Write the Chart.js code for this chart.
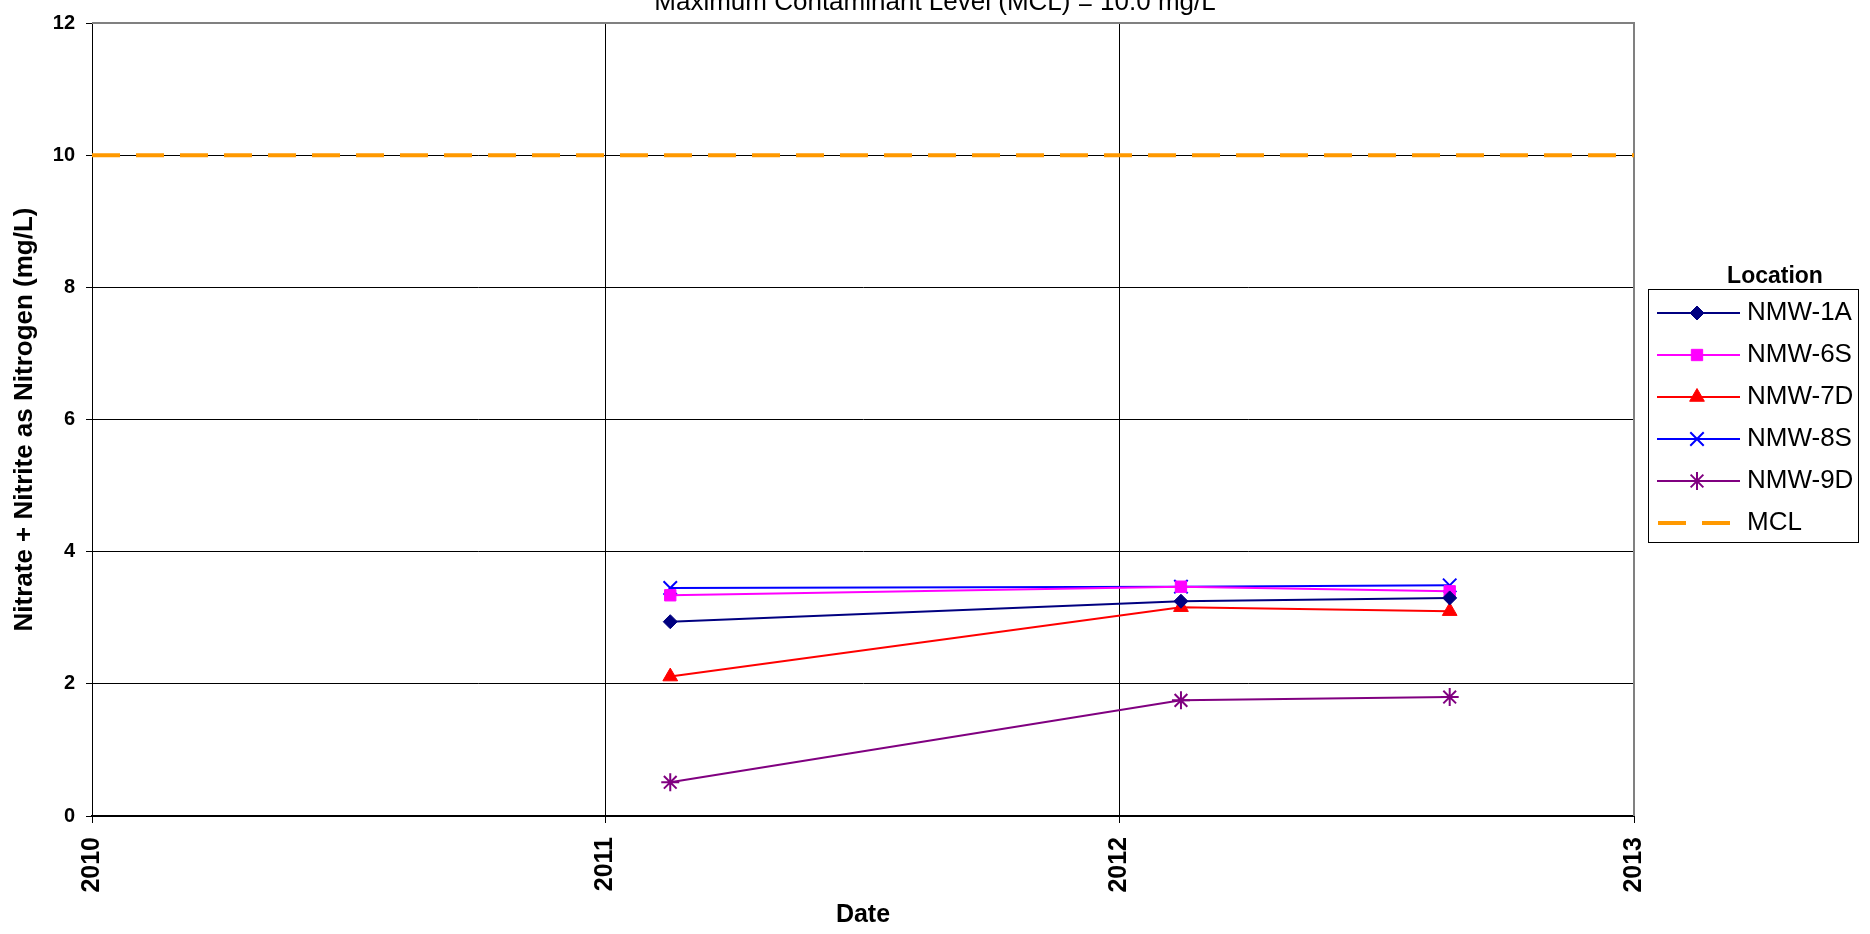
<!DOCTYPE html>
<html>
<head>
<meta charset="utf-8">
<script src="https://cdn.jsdelivr.net/npm/chart.js@4/dist/chart.umd.min.js"></script>
<style>
  html, body { margin: 0; padding: 0; background: #fff; }
  #wrap { width: 1870px; height: 934px; }
</style>
</head>
<body>
<div id="wrap"><canvas id="c" width="1870" height="934"></canvas></div>
<script>
// Sampling dates and measured nitrate + nitrite (as N), mg/L
const sampleDates = ['2011-02-16', '2012-02-14', '2012-08-23'];
const nmw1A = [2.94, 3.25, 3.30];
const nmw6S = [3.34, 3.47, 3.40];
const nmw7D = [2.11, 3.16, 3.10];
const nmw8S = [3.45, 3.47, 3.49];
const nmw9D = [0.51, 1.75, 1.80];

// Maximum Contaminant Level and the span it is drawn across
const mclValue = 10.0;
const mclSpan = ['2010-01-01', '2013-01-01'];

// Axis ticks
const yearTicks = [2010, 2011, 2012, 2013];
const yTicks = [0, 2, 4, 6, 8, 10, 12];

const FONT = '"Liberation Sans", Arial, Helvetica, sans-serif';
const toMs = d => Date.parse(d + 'T00:00:00Z');
const series = (vals) => sampleDates.map((d, i) => ({ x: toMs(d), y: vals[i] }));
const yearMs = y => Date.UTC(y, 0, 1);

const datasets = [
  { label: 'NMW-1A', data: series(nmw1A), borderColor: '#000080', backgroundColor: '#000080',
    pointStyle: 'rectRot', pointRadius: 7, pointBackgroundColor: '#000080', pointBorderColor: '#000080', pointBorderWidth: 1 },
  { label: 'NMW-6S', data: series(nmw6S), borderColor: '#FF00FF', backgroundColor: '#FF00FF',
    pointStyle: 'rect', pointRadius: 8, pointBackgroundColor: '#FF00FF', pointBorderColor: '#FF00FF', pointBorderWidth: 1 },
  { label: 'NMW-7D', data: series(nmw7D), borderColor: '#FF0000', backgroundColor: '#FF0000',
    pointStyle: 'triangle', pointRadius: 8.5, pointBackgroundColor: '#FF0000', pointBorderColor: '#FF0000', pointBorderWidth: 1 },
  { label: 'NMW-8S', data: series(nmw8S), borderColor: '#0000FF', backgroundColor: '#0000FF',
    pointStyle: 'crossRot', pointRadius: 9.5, pointBackgroundColor: '#0000FF', pointBorderColor: '#0000FF', pointBorderWidth: 2 },
  { label: 'NMW-9D', data: series(nmw9D), borderColor: '#800080', backgroundColor: '#800080',
    pointStyle: 'star', pointRadius: 9, pointBackgroundColor: '#800080', pointBorderColor: '#800080', pointBorderWidth: 2 },
  { label: 'MCL', data: mclSpan.map(d => ({ x: toMs(d), y: mclValue })), borderColor: '#FF9900', backgroundColor: '#FF9900',
    borderWidth: 4, borderDash: [28, 16], pointRadius: 0, pointStyle: false }
].map(ds => Object.assign({ borderWidth: 2, tension: 0, fill: false }, ds));

// Gray frame along the top and right of the plot area
const plotFrame = {
  id: 'plotFrame',
  beforeDatasetsDraw(chart) {
    const { ctx, chartArea: a } = chart;
    ctx.save();
    ctx.strokeStyle = '#808080';
    ctx.lineWidth = 2;
    ctx.beginPath();
    ctx.moveTo(a.left, a.top);
    ctx.lineTo(a.right, a.top);
    ctx.lineTo(a.right, a.bottom);
    ctx.stroke();
    ctx.restore();
  }
};

// Heading above the plot
const heading = {
  id: 'heading',
  afterDraw(chart) {
    const ctx = chart.ctx;
    ctx.save();
    ctx.fillStyle = '#000';
    ctx.font = '26px ' + FONT;
    ctx.textAlign = 'center';
    ctx.textBaseline = 'alphabetic';
    ctx.fillText('Maximum Contaminant Level (MCL) = ' + mclValue.toFixed(1) + ' mg/L', chart.width / 2, 10);
    ctx.restore();
  }
};

// Boxed "Location" legend at the right
const locationLegend = {
  id: 'locationLegend',
  afterDraw(chart) {
    const ctx = chart.ctx;
    const box = { x: 1648, y: 289, w: 210, h: 253 };
    const rowTop = 313, rowGap = 42;
    const markX = 1697, textX = 1747;
    ctx.save();
    ctx.strokeStyle = '#000';
    ctx.lineWidth = 1;
    ctx.strokeRect(box.x + 0.5, box.y + 0.5, box.w, box.h);
    ctx.fillStyle = '#000';
    ctx.font = 'bold 23px ' + FONT;
    ctx.textAlign = 'center';
    ctx.textBaseline = 'alphabetic';
    ctx.fillText('Location', 1775, 283);
    chart.data.datasets.forEach((ds, i) => {
      const y = rowTop + i * rowGap;
      ctx.save();
      ctx.strokeStyle = ds.borderColor;
      ctx.lineWidth = ds.borderWidth;
      ctx.beginPath();
      if (ds.borderDash) {
        ctx.setLineDash(ds.borderDash);
        ctx.moveTo(1658, y); ctx.lineTo(1730, y);
      } else {
        ctx.moveTo(1657, y); ctx.lineTo(1740, y);
      }
      ctx.stroke();
      ctx.setLineDash([]);
      if (ds.pointStyle && ds.pointRadius > 0) {
        ctx.fillStyle = ds.pointBackgroundColor;
        ctx.strokeStyle = ds.pointBorderColor;
        ctx.lineWidth = ds.pointBorderWidth;
        Chart.helpers.drawPoint(ctx, { pointStyle: ds.pointStyle, radius: ds.pointRadius, rotation: 0, borderWidth: ds.pointBorderWidth }, markX, y);
      }
      ctx.restore();
      ctx.fillStyle = '#000';
      ctx.font = '26px ' + FONT;
      ctx.textAlign = 'left';
      ctx.textBaseline = 'middle';
      ctx.fillText(ds.label, textX, y);
    });
    ctx.restore();
  }
};

new Chart(document.getElementById('c'), {
  type: 'line',
  data: { datasets },
  options: {
    responsive: false,
    devicePixelRatio: 1,
    animation: false,
    layout: { padding: { left: 0, top: 17, right: 236, bottom: 0 } },
    plugins: { legend: { display: false }, tooltip: { enabled: false }, title: { display: false } },
    scales: {
      x: {
        type: 'linear',
        min: yearMs(yearTicks[0]),
        max: yearMs(yearTicks[yearTicks.length - 1]),
        afterBuildTicks: s => { s.ticks = yearTicks.map(y => ({ value: yearMs(y) })); },
        afterFit: s => { s.height = 118; },
        ticks: {
          autoSkip: false, minRotation: 90, maxRotation: 90, padding: 14, color: '#000',
          font: { family: FONT, size: 25, weight: 'bold' },
          callback: v => String(new Date(v).getUTCFullYear())
        },
        grid: { color: '#000', lineWidth: 1, tickLength: 7, drawTicks: true },
        border: { color: '#000', width: 2 },
        title: { display: true, text: 'Date', color: '#000', padding: { top: 0, bottom: 4 },
                 font: { family: FONT, size: 25, weight: 'bold' } }
      },
      y: {
        min: 0, max: 12,
        afterBuildTicks: s => { s.ticks = yTicks.map(v => ({ value: v })); },
        afterFit: s => { s.width = 92; },
        ticks: { padding: 11, color: '#000', font: { family: FONT, size: 20, weight: 'bold' } },
        grid: { color: '#000', lineWidth: 1, tickLength: 6, drawTicks: true },
        border: { color: '#000', width: 1 },
        title: { display: true, text: 'Nitrate + Nitrite as Nitrogen (mg/L)', color: '#000', padding: { top: 9, bottom: 0 },
                 font: { family: FONT, size: 26, weight: 'bold' } }
      }
    }
  },
  plugins: [plotFrame, heading, locationLegend]
});
</script>
</body>
</html>
